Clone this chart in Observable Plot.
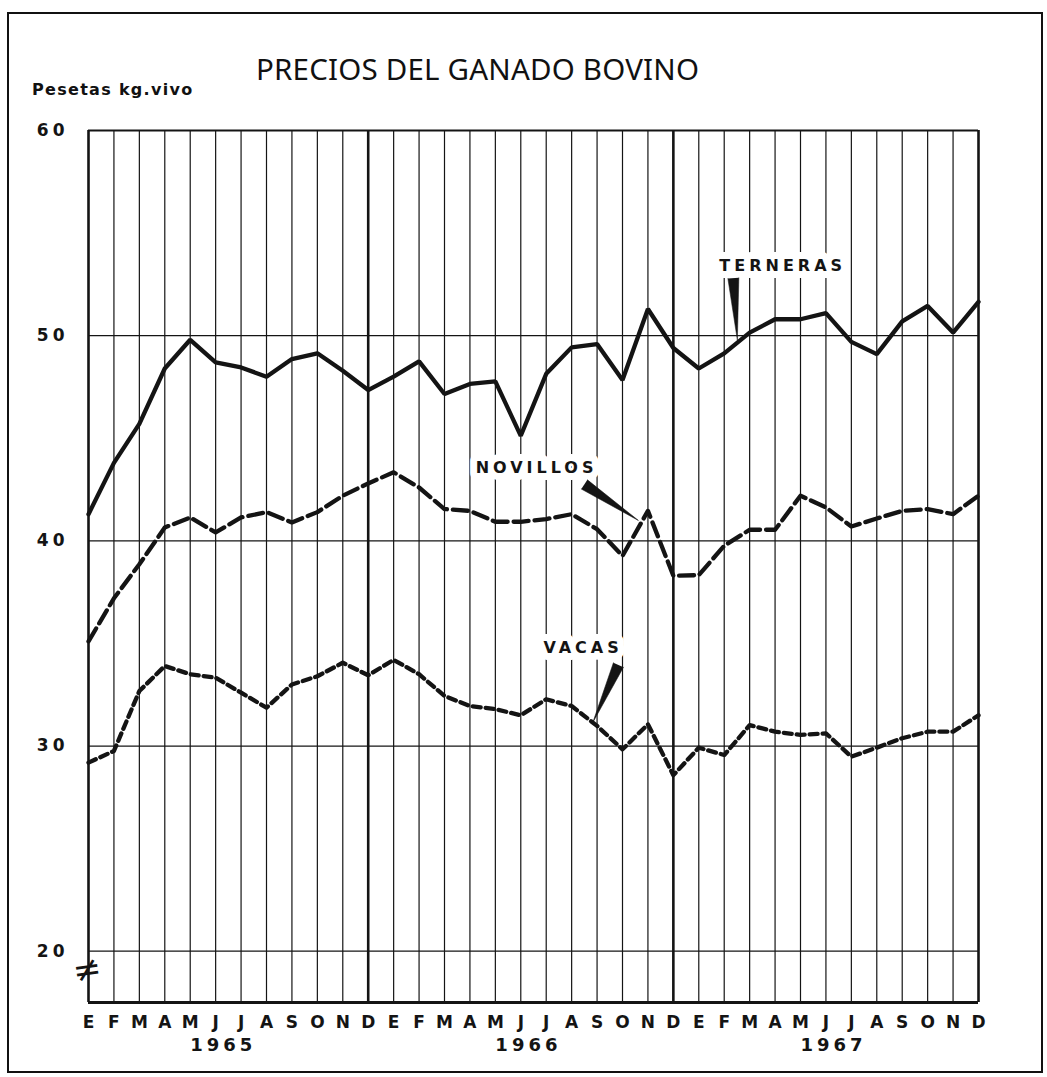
<!DOCTYPE html>
<html>
<head>
<meta charset="utf-8">
<script src="https://cdn.jsdelivr.net/npm/d3@7"></script>
<script src="https://cdn.jsdelivr.net/npm/@observablehq/plot@0.6"></script>
<style>
  html, body { margin: 0; padding: 0; background: #fff; }
  #page { position: relative; width: 1047px; height: 1077px; overflow: hidden; background: #fff; }
  #border { position: absolute; left: 7px; top: 12px; width: 1036px; height: 1061px; border: 2px solid #111; box-sizing: border-box; }
  #title { position: absolute; left: 256px; top: 48px; font-family: "Noto Sans", sans-serif; font-size: 29.5px; font-weight: 400; color: #111; letter-spacing: 0.2px; white-space: nowrap; }
  #ylabel { position: absolute; left: 32px; top: 80px; font-family: "DejaVu Sans", sans-serif; font-size: 16px; font-weight: bold; color: #111; letter-spacing: 1.3px; white-space: nowrap; }
  #chart { position: absolute; left: 0; top: 0; }
</style>
</head>
<body>
<div id="page">
  <div id="border"></div>
  <div id="chart"></div>
  <div id="title">PRECIOS DEL GANADO BOVINO</div>
  <div id="ylabel">Pesetas kg.vivo</div>
</div>
<script>
// ---- data ----
const months = ["E","F","M","A","M","J","J","A","S","O","N","D"];
const years = ["1965", "1966", "1967"];
const yTicks = [20, 30, 40, 50, 60];
const yDomain = [17.5, 60];

const terneras = [41.3, 43.8, 45.7, 48.4, 49.8, 48.7, 48.45, 48.0, 48.86, 49.14, 48.29, 47.35,
                  48.0, 48.75, 47.16, 47.65, 47.77, 45.12, 48.14, 49.43, 49.59, 47.84, 51.3, 49.4,
                  48.4, 49.14, 50.15, 50.8, 50.8, 51.1, 49.7, 49.1, 50.7, 51.45, 50.15, 51.65];
const novillos = [35.1, 37.2, 38.86, 40.65, 41.14, 40.41, 41.14, 41.4, 40.9, 41.4, 42.2, 42.8,
                  43.34, 42.6, 41.55, 41.46, 40.93, 40.93, 41.06, 41.3, 40.57, 39.27, 41.46, 38.3,
                  38.33, 39.76, 40.54, 40.54, 42.2, 41.63, 40.7, 41.09, 41.46, 41.55, 41.3, 42.2];
const vacas = [29.19, 29.76, 32.68, 33.9, 33.5, 33.33, 32.6, 31.87, 33.0, 33.4, 34.06, 33.45,
               34.2, 33.5, 32.44, 31.95, 31.8, 31.5, 32.28, 31.95, 30.98, 29.84, 31.06, 28.58,
               29.92, 29.56, 31.02, 30.7, 30.54, 30.62, 29.48, 29.92, 30.38, 30.7, 30.7, 31.5];

const seriesNames = ["TERNERAS", "NOVILLOS", "VACAS"];
// label anchor (month index, value) and pointer (base index, base value, length px, rotation deg)
const labelAt = [[27.3, 53.4], [17.62, 43.58], [19.45, 34.8]];
const pointerAt = [[25.36, 52.8, 62, 176.3], [19.5, 42.75, 65, 123.7], [20.84, 33.95, 63, 204]];

// ---- derived tables ----
const idx = d3.range(months.length * years.length);
const toRows = arr => arr.map((v, i) => ({i, v}));
const labels = seriesNames.map((name, k) => ({name, i: labelAt[k][0], v: labelAt[k][1]}));
const yearRows = years.map((y, k) => ({y, i: k * 12 + 5.3}));

const ink = "#141414";

const marks = [
  // vertical month grid
  Plot.ruleX(idx.filter(i => i % 12 !== 11 && i !== 0), {stroke: ink, strokeWidth: 1.2}),
  // horizontal grid
  Plot.ruleY(yTicks.filter(t => t !== 60), {stroke: ink, strokeWidth: 1.3}),
  Plot.ruleY([yDomain[1]], {stroke: ink, strokeWidth: 2}),
  // labels with white halo (cut the grid)
  Plot.text(labels, {x: "i", y: "v", text: "name", fill: ink, stroke: "white", strokeWidth: 14,
    fontSize: 16, fontWeight: "bold", fontFamily: "DejaVu Sans"}),
  // heavy year lines and frame
  Plot.ruleX(idx.filter(i => i % 12 === 11 || i === 0), {stroke: ink, strokeWidth: 2.6}),
  Plot.ruleY([yDomain[0]], {stroke: ink, strokeWidth: 2.8}),
  // series
  Plot.line(toRows(terneras), {x: "i", y: "v", stroke: ink, strokeWidth: 4.3, strokeLinejoin: "miter"}),
  Plot.line(toRows(novillos), {x: "i", y: "v", stroke: ink, strokeWidth: 4.3, strokeDasharray: "15,6"}),
  Plot.line(toRows(vacas), {x: "i", y: "v", stroke: ink, strokeWidth: 4.3, strokeDasharray: "8,5"}),
  // pointers
  ...pointerAt.map(p => Plot.vector([{i: p[0], v: p[1]}], {
    x: "i", y: "v", length: p[2], rotate: p[3], shape: "spike", r: 5.5, anchor: "start",
    fill: ink, stroke: ink, strokeWidth: 0.5})),
  // axes
  Plot.axisX({ticks: idx, tickFormat: i => months[i % 12], tickSize: 0, tickPadding: 13, label: null,
    fontSize: 17, fontWeight: "bold", fontFamily: "DejaVu Sans", fill: ink}),
  Plot.axisY({ticks: yTicks, tickSize: 0, tickPadding: 20, tickFormat: d => String(d), label: null,
    fontSize: 17, fontWeight: "bold", fontFamily: "DejaVu Sans", fill: ink}),
  // year labels
  Plot.text(yearRows, {x: "i", text: "y", frameAnchor: "bottom", dy: 48,
    fontSize: 18, fontWeight: "bold", fontFamily: "DejaVu Sans", fill: ink}),
  // axis break mark
  Plot.text(["≠"], {frameAnchor: "bottom-left", textAnchor: "middle", dy: -22, dx: 2, fontSize: 34, fill: ink,
    fontFamily: "DejaVu Sans", rotate: -8})
];

const chart = Plot.plot({
  width: 1047,
  height: 1077,
  marginLeft: 88,
  marginRight: 69,
  marginTop: 130,
  marginBottom: 75,
  x: {type: "linear", domain: [0, idx.length - 1], axis: null},
  y: {type: "linear", domain: yDomain, axis: null},
  style: {background: "transparent", overflow: "visible"},
  marks
});

document.getElementById("chart").appendChild(chart);

// letter spacing for the stencil-like lettering
const svg = d3.select(chart);
svg.selectAll('g[aria-label="y-axis tick label"] text').style("letter-spacing", "4px");
svg.selectAll('g[aria-label="text"] text').style("letter-spacing", "4px");
</script>
</body>
</html>
